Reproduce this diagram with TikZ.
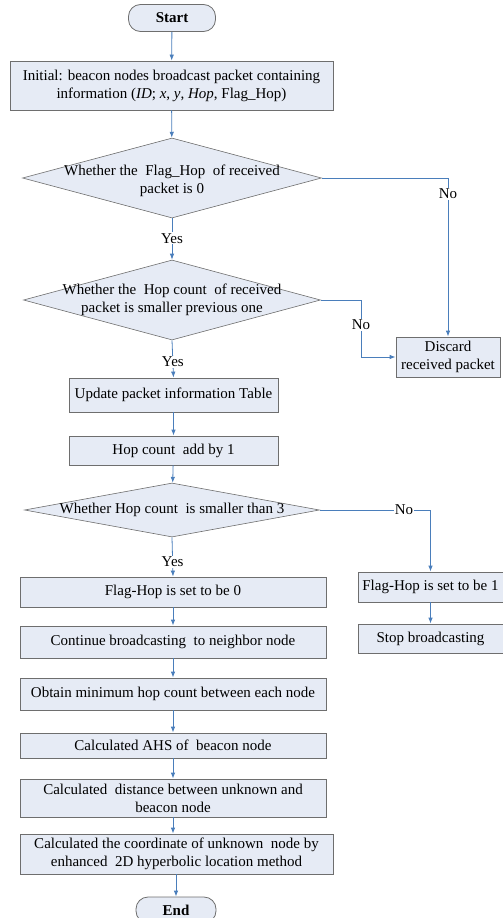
\documentclass[tikz,border=0pt]{standalone}
\usepackage{fontspec}
\setmainfont{Liberation Serif}
\usepackage{tikz}
\usetikzlibrary{shapes.geometric, arrows.meta, calc}

\definecolor{boxfill}{HTML}{E6EBF5}
\definecolor{boxline}{HTML}{6E6E6E}
\definecolor{flowblue}{HTML}{4A7EBB}

\begin{document}
\begin{tikzpicture}[x=1pt, y=-1pt,
		font=\fontsize{15}{18}\selectfont,
		procbox/.style={draw=boxline, fill=boxfill, line width=0.8pt, rectangle, inner sep=1pt, align=center},
		termbox/.style={draw=boxline, fill=boxfill, line width=0.8pt, rectangle, rounded corners=12pt, font=\fontsize{15}{18}\selectfont\bfseries},
		decbox/.style={draw=boxline, fill=boxfill, line width=0.6pt, diamond, inner sep=0pt},
		flow/.style={draw=flowblue, line width=0.8pt, -{Latex[length=6pt, width=4.5pt]}},
		answer/.style={fill=white, inner sep=1pt}]
			\useasboundingbox (0, 0) rectangle (503, 918);
			
			% main column
			\node[termbox, minimum width=87pt, minimum height=27pt] (start) at (172, 18) {Start};
			\node[procbox, minimum width=323pt, minimum height=49pt] (init) at (171.5, 85.5)
				{Initial: beacon nodes broadcast packet containing\\information (\textit{ID}; \textit{x}, \textit{y}, \textit{Hop}, Flag\_Hop)};
			\node[decbox, minimum width=299pt, minimum height=80pt] (dec1) at (172, 178) {};
			\node[align=center] (dec1txt) at (172, 181) {Whether the \ Flag\_Hop \ of received\\packet is 0};
			\node[decbox, minimum width=297pt, minimum height=80pt] (dec2) at (172, 300) {};
			\node[align=center] (dec2txt) at (172, 300) {Whether the \ Hop count \ of received\\packet is smaller previous one};
			\node[procbox, minimum width=209pt, minimum height=34pt] (update) at (173.5, 395) {Update packet information Table};
			\node[procbox, minimum width=209pt, minimum height=29pt] (hopadd) at (173.5, 450.5) {Hop count \ add by 1};
			\node[decbox, minimum width=295pt, minimum height=54pt] (dec3) at (172, 510) {};
			\node (dec3txt) at (172, 510) {Whether Hop count \ is smaller than 3};
			\node[procbox, minimum width=306pt, minimum height=30pt] (flag0) at (173, 592) {Flag-Hop is set to be 0};
			\node[procbox, minimum width=306pt, minimum height=32pt] (cont) at (173, 642) {Continue broadcasting \ to neighbor node};
			\node[procbox, minimum width=306pt, minimum height=32pt] (obtain) at (173, 694) {Obtain minimum hop count between each node};
			\node[procbox, minimum width=306pt, minimum height=25pt] (ahs) at (173, 745.5) {Calculated AHS of \ beacon node};
			\node[procbox, minimum width=306pt, minimum height=38pt] (dist) at (173, 798)
				{Calculated \ distance between unknown and\\beacon node};
			\node[procbox, minimum width=313pt, minimum height=40pt] (coord) at (176.5, 854)
				{Calculated the coordinate of unknown \ node by\\enhanced \ 2D hyperbolic location method};
			\node[termbox, minimum width=80pt, minimum height=26pt] (finish) at (176, 910) {End};
			
			% right column
			\node[procbox, minimum width=104pt, minimum height=40pt] (discard) at (448, 357) {Discard\\received packet};
			\node[procbox, minimum width=145pt, minimum height=30pt] (flag1) at (430.5, 587) {Flag-Hop is set to be 1};
			\node[procbox, minimum width=145pt, minimum height=29pt] (stop) at (430.5, 638.5) {Stop broadcasting};
			\coordinate (bend2) at (361, 300);
			
			% connectors
			\draw[flow] (start) -- (init);
			\draw[flow] (init) -- (dec1);
			\draw[flow] (dec1.south) -- node[answer, pos=0.48]{Yes} (dec2.north);
			\draw[flow] (dec2.south) -- node[answer, pos=0.58]{Yes} (update.north);
			\draw[flow] (update) -- (hopadd);
			\draw[flow] (hopadd) -- (dec3);
			\draw[flow] (dec3.south) -- node[answer, pos=0.62]{Yes} (flag0.north);
			\draw[flow] (flag0) -- (cont);
			\draw[flow] (cont) -- (obtain);
			\draw[flow] (obtain) -- (ahs);
			\draw[flow] (ahs) -- (dist);
			\draw[flow] (dist.south) -- (dist.south |- coord.north);
			\draw[flow] (coord.south -| finish.north) -- (finish.north);
			
			\draw[flow] (dec1.east) -| node[answer, pos=0.55]{No} (discard.north);
			\draw[flow] (dec2.east) -- (bend2) |- node[answer, pos=0.22]{No} (discard.west);
			\draw[flow] (dec3.east) -| node[answer, pos=0.38]{No} (flag1.north);
			\draw[flow] (flag1) -- (stop);
			\end{tikzpicture}
\end{document}
